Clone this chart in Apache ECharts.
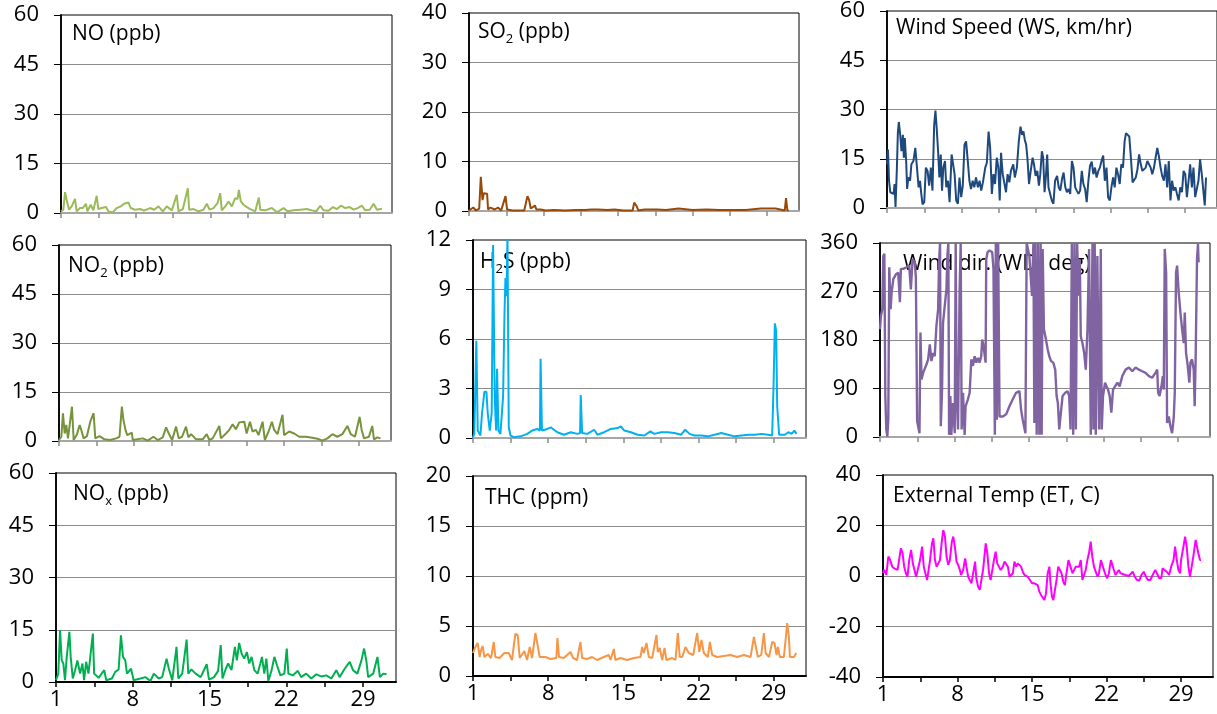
<!DOCTYPE html>
<html>
<head>
<meta charset="utf-8">
<script src="https://cdn.jsdelivr.net/npm/echarts@6/dist/echarts.min.js"></script>
<style>
html,body{margin:0;padding:0;background:#fff;}
#chart{width:1217px;height:714px;}
</style>
</head>
<body>
<div id="chart"></div>
<script>
// ---- tick labels (day of month) ----
const dayTicks = [1, 4.5, 8, 11.5, 15, 18.5, 22, 25.5, 29];
const dayLabels = [1, 8, 15, 22, 29];

// ---- series values: [day, value] ----
const noData = [[1.00,0.5],[1.22,1],[1.38,6.3],[1.53,4],[1.75,1],[2.0,2],[2.31,4.3],[2.47,0.5],[2.78,1.5],[3.03,1.5],[3.34,2.8],[3.47,0.5],[3.78,2.5],[4.03,0.8],[4.34,5.2],[4.5,1.2],[4.81,1.5],[5.22,1.8],[5.44,0.5],[5.84,0.2],[6.22,1.5],[6.59,2],[6.91,2.8],[7.31,3.2],[7.53,1.5],[7.94,1],[8.41,1.2],[8.78,0.7],[9.34,1.5],[9.72,1],[10.13,2],[10.53,0.5],[10.91,2],[11.38,0.8],[11.84,5.5],[12.0,0.5],[12.41,1.2],[12.88,7.5],[13.0,1],[13.41,1.2],[13.88,0.5],[14.34,1],[14.66,2.8],[14.91,1],[15.28,1.5],[15.66,3],[15.91,6],[16.06,0.8],[16.38,2],[16.69,3.5],[17.0,2],[17.31,4.5],[17.53,4.2],[17.66,7],[17.84,3.5],[18.09,2.5],[18.41,1.8],[18.72,1.2],[19.19,0.5],[19.53,4.7],[19.66,1],[20.13,0.8],[20.75,1.5],[21.22,0.2],[21.84,1.5],[22.22,0.5],[22.78,0.8],[23.41,1],[24.03,1.2],[24.5,0.8],[24.91,0.5],[25.28,2.2],[25.59,0.8],[26.06,0.7],[26.47,1.8],[26.84,1.2],[27.22,2.2],[27.63,1.5],[28.03,1.8],[28.41,1],[28.78,1.5],[29.19,2.2],[29.5,0.8],[29.91,1],[30.28,2.8],[30.59,1],[31.06,1.3]];

const no2Data = [[1.0,0.3],[1.22,1.3],[1.37,8.5],[1.53,2.3],[1.68,4.9],[1.84,0.8],[2.21,10.5],[2.37,0.3],[2.68,2.1],[2.93,4.9],[3.08,3.4],[3.30,0.8],[3.61,1.5],[3.92,5.9],[4.23,8.5],[4.39,0.8],[4.79,1.5],[5.25,0.5],[5.78,0.3],[6.34,0.8],[6.65,1.3],[6.87,10.5],[7.02,6.4],[7.21,3.4],[7.37,1.8],[7.80,2.6],[7.89,0.3],[8.83,0.8],[9.29,0.1],[9.82,1.3],[10.22,0.3],[10.69,1.1],[11.0,4.2],[11.25,2.3],[11.56,0.3],[11.93,4.4],[12.18,0.8],[12.49,1.3],[12.86,4.4],[13.08,1.1],[13.33,2.1],[13.80,0.5],[14.42,0.5],[14.79,2.1],[15.04,0.3],[15.35,0.8],[15.97,4.6],[16.12,0.8],[16.59,2.3],[16.90,3.4],[17.21,5.1],[17.52,3.6],[17.83,5.7],[18.30,5.9],[18.52,2.3],[18.83,5.9],[19.07,2.9],[19.39,3.4],[19.63,1.8],[20.01,5.9],[20.22,0.3],[20.57,2.9],[20.88,5.9],[21.09,3.4],[21.40,2.1],[21.87,8.0],[22.02,1.8],[22.49,2.9],[22.96,2.3],[23.42,1.3],[24.04,1.3],[24.66,1.0],[25.13,0.7],[25.60,0.1],[26.06,0.8],[26.53,2.1],[26.99,1.3],[27.46,2.1],[27.93,4.6],[28.24,2.1],[28.64,1.3],[29.07,7.4],[29.26,3.4],[29.48,0.8],[29.94,1.3],[30.25,4.6],[30.41,0.5],[30.72,1.1],[31.03,0.8]];

const noxData = [[1.0,0.5],[1.21,2.4],[1.37,14.9],[1.52,6.2],[1.67,5.3],[1.82,0.5],[1.98,7.2],[2.22,14.4],[2.34,7.2],[2.53,1.0],[2.74,3.4],[2.95,6.2],[3.20,2.4],[3.41,5.3],[3.56,0.5],[3.75,5.8],[3.96,2.4],[4.11,6.7],[4.36,13.9],[4.48,2.4],[4.88,1.2],[5.40,3.4],[5.58,0.5],[6.10,1.0],[6.40,2.9],[6.71,3.6],[6.92,13.4],[7.11,7.2],[7.32,6.2],[7.47,2.4],[7.84,3.8],[8.08,0.5],[8.69,1.0],[9.15,1.4],[9.61,0.3],[9.92,2.4],[10.37,1.0],[10.68,1.4],[11.08,6.7],[11.29,3.8],[11.60,0.5],[11.99,10.1],[12.15,1.0],[12.51,2.4],[12.91,12.2],[13.06,2.4],[13.34,3.6],[13.73,2.4],[14.19,1.4],[14.74,5.1],[14.95,0.7],[15.41,1.4],[15.78,3.2],[16.02,10.6],[16.18,1.0],[16.48,3.8],[16.70,5.3],[17.0,3.4],[17.31,10.1],[17.49,6.2],[17.70,11.2],[17.92,8.2],[18.16,6.7],[18.40,8.6],[18.62,5.3],[18.83,7.2],[19.08,3.4],[19.38,2.4],[19.63,5.3],[19.78,7.2],[19.99,2.4],[20.18,6.7],[20.36,0.3],[20.66,3.4],[20.91,7.2],[21.15,4.8],[21.46,1.9],[21.82,2.4],[22.04,9.6],[22.19,2.4],[22.59,1.9],[23.05,3.2],[23.35,1.4],[23.81,2.4],[24.27,1.0],[24.73,2.2],[25.18,1.6],[25.64,1.9],[26.10,1.0],[26.56,3.4],[26.86,1.4],[27.32,3.8],[27.78,5.8],[28.08,3.4],[28.48,2.4],[28.85,6.2],[29.09,9.6],[29.31,5.8],[29.46,1.4],[29.92,2.4],[30.31,7.2],[30.53,1.4],[30.83,2.4],[31.14,2.2]];

const so2Data = [[1.0,0.1],[1.40,0.7],[1.65,0.1],[1.96,0.5],[2.11,6.9],[2.27,2.2],[2.39,3.6],[2.57,3.2],[2.70,3.5],[2.79,0.3],[3.01,0.7],[3.41,0.3],[3.72,0.7],[4.02,0.1],[4.43,3.0],[4.58,0.3],[5.10,0.1],[6.19,0.1],[6.49,3.0],[6.65,2.2],[6.80,0.5],[7.20,1.1],[7.33,0.3],[7.73,0.3],[8.19,0.1],[9.0,0.2],[10.04,0.1],[11.0,0.2],[11.90,0.2],[12.5,0.3],[13.13,0.3],[14.0,0.2],[14.67,0.3],[15.5,0.1],[16.37,0.1],[16.52,1.7],[16.77,0.9],[16.90,0.1],[17.5,0.3],[18.69,0.3],[19.5,0.2],[20.69,0.5],[20.85,0.1],[22.0,0.2],[23.31,0.3],[24.5,0.2],[25.78,0.2],[27.0,0.2],[28.41,0.5],[28.56,0.1],[29.80,0.5],[29.95,0.1],[30.66,0.1],[30.78,2.6],[30.91,0.1],[31.03,0.1]];

const h2sData = [[1.0,0.05],[1.12,0.25],[1.31,5.9],[1.44,0.45],[1.69,0.15],[1.84,1.5],[2.06,2.8],[2.25,2.8],[2.37,1.5],[2.56,0.45],[2.74,1.5],[2.87,11.7],[3.02,2.5],[3.15,0.45],[3.24,4.2],[3.37,0.45],[3.55,0.25],[3.80,2.5],[3.93,7.45],[4.02,9.7],[4.12,8.6],[4.21,12.3],[4.33,0.65],[4.49,0.15],[4.80,0.05],[5.42,0.1],[6.05,0.25],[6.51,0.45],[6.98,0.55],[7.23,0.45],[7.29,4.8],[7.42,0.45],[7.92,0.55],[8.23,0.65],[8.54,0.5],[8.85,0.35],[9.47,0.2],[10.10,0.35],[10.72,0.25],[10.97,0.3],[11.03,2.6],[11.16,0.3],[11.65,0.25],[12.28,0.5],[12.59,0.2],[13.21,0.35],[13.83,0.55],[14.46,0.6],[14.77,0.7],[15.08,0.45],[15.70,0.35],[16.33,0.2],[16.95,0.15],[17.51,0.4],[17.88,0.25],[18.51,0.35],[19.13,0.35],[19.75,0.3],[20.38,0.2],[20.53,0.15],[20.75,0.5],[21.16,0.25],[21.62,0.15],[22.25,0.15],[22.87,0.1],[23.49,0.2],[24.12,0.3],[24.74,0.2],[25.36,0.1],[25.98,0.15],[26.61,0.2],[27.23,0.2],[27.85,0.25],[28.48,0.2],[28.85,0.15],[28.98,3.2],[29.10,6.95],[29.22,6.5],[29.32,1.9],[29.41,1.8],[29.50,0.2],[30.03,0.2],[30.35,0.35],[30.66,0.25],[30.91,0.45],[31.12,0.25]];

const thcData = [[1.0,2.3],[1.22,2.9],[1.43,3.3],[1.62,1.9],[1.75,2.6],[1.90,3.0],[2.06,1.9],[2.37,2.2],[2.68,1.8],[2.93,3.4],[3.08,1.9],[3.48,1.8],[3.92,2.3],[4.32,2.3],[4.63,1.6],[4.94,4.2],[5.16,4.1],[5.35,1.8],[5.78,2.5],[6.03,1.6],[6.28,2.9],[6.50,1.8],[6.81,4.3],[6.96,3.4],[7.21,1.9],[7.74,1.9],[8.20,1.7],[8.76,1.8],[8.86,3.8],[9.01,1.9],[9.45,1.8],[10.07,2.4],[10.32,1.8],[10.69,1.6],[11.0,3.4],[11.16,1.8],[11.62,1.7],[12.09,1.9],[12.55,1.6],[13.17,1.9],[13.64,2.1],[13.80,1.6],[14.11,2.7],[14.26,1.6],[14.73,1.8],[15.35,1.6],[15.97,1.8],[16.59,1.9],[16.75,2.9],[16.90,2.3],[17.15,3.3],[17.37,1.9],[17.68,1.8],[18.08,4.1],[18.20,2.4],[18.39,2.8],[18.61,1.6],[18.83,2.8],[19.01,1.6],[19.54,1.8],[19.85,1.6],[20.07,4.3],[20.25,1.9],[20.47,1.9],[20.78,2.9],[21.09,2.3],[21.50,2.1],[21.87,4.3],[22.06,2.4],[22.27,3.6],[22.49,2.3],[22.86,1.9],[23.05,3.4],[23.27,2.1],[23.73,1.9],[24.35,2.0],[24.98,2.1],[25.60,1.9],[26.22,2.1],[26.84,1.9],[27.15,3.9],[27.30,3.1],[27.52,1.9],[27.83,2.1],[28.08,4.3],[28.24,2.3],[28.55,1.9],[28.86,3.4],[29.07,3.3],[29.26,2.1],[29.39,2.9],[29.57,1.9],[29.94,1.9],[30.10,3.6],[30.25,5.3],[30.41,3.9],[30.50,1.9],[30.88,1.9],[31.09,2.3]];

const wsData = [[1.00,13.3],[1.09,17.8],[1.19,8.3],[1.31,4.8],[1.46,5.3],[1.62,4.3],[1.71,7.3],[1.80,0.3],[1.93,12.3],[2.02,22.8],[2.11,26.2],[2.24,22.3],[2.36,17.3],[2.49,22.3],[2.58,15.3],[2.67,21.3],[2.80,14.3],[2.89,5.8],[3.01,9.3],[3.17,8.3],[3.29,13.3],[3.48,14.3],[3.66,18.3],[3.79,13.3],[3.97,6.3],[4.10,8.3],[4.22,4.3],[4.34,1.1],[4.50,1.8],[4.65,12.3],[4.81,11.3],[4.96,6.8],[5.12,12.3],[5.27,5.3],[5.43,25.2],[5.55,29.7],[5.67,24.2],[5.80,17.3],[5.92,9.3],[6.05,16.3],[6.17,5.3],[6.29,12.3],[6.45,14.3],[6.57,6.3],[6.73,8.3],[6.88,1.8],[7.07,16.3],[7.22,16.8],[7.35,10.3],[7.50,2.3],[7.66,1.3],[7.81,9.3],[7.97,3.3],[8.12,6.8],[8.28,19.3],[8.43,20.3],[8.59,14.3],[8.74,8.3],[8.89,5.8],[9.05,8.3],[9.20,6.3],[9.36,9.3],[9.54,6.3],[9.70,8.3],[9.85,5.3],[10.01,7.8],[10.23,12.3],[10.38,13.8],[10.54,23.3],[10.69,18.3],[10.85,4.3],[11.00,10.3],[11.15,7.3],[11.31,15.3],[11.46,12.3],[11.59,2.3],[11.71,16.8],[11.87,10.3],[12.02,9.8],[12.18,4.8],[12.33,10.3],[12.49,7.8],[12.64,11.3],[12.86,13.3],[13.01,9.3],[13.20,12.3],[13.38,20.3],[13.54,24.8],[13.69,22.3],[13.82,23.3],[13.94,20.8],[14.07,19.3],[14.19,15.3],[14.34,7.3],[14.50,11.3],[14.68,15.3],[14.81,13.3],[14.96,9.8],[15.12,11.3],[15.27,6.8],[15.40,10.3],[15.55,17.3],[15.67,15.3],[15.80,4.8],[15.92,9.3],[16.05,16.3],[16.17,6.3],[16.33,6.3],[16.48,2.3],[16.63,1.3],[16.79,8.3],[16.98,9.8],[17.13,6.3],[17.28,5.3],[17.44,8.8],[17.59,10.8],[17.75,6.3],[17.90,4.8],[18.06,5.8],[18.21,4.3],[18.37,14.3],[18.52,12.3],[18.68,6.3],[18.83,5.3],[18.99,4.3],[19.14,5.3],[19.30,11.3],[19.45,7.3],[19.61,5.8],[19.76,1.8],[19.92,8.3],[20.07,12.8],[20.23,14.1],[20.38,10.3],[20.54,12.3],[20.69,9.3],[20.85,11.3],[21.00,12.3],[21.15,14.3],[21.31,16.0],[21.46,8.3],[21.62,12.3],[21.77,3.3],[21.93,2.3],[22.08,6.3],[22.24,9.3],[22.39,6.3],[22.55,12.3],[22.70,10.3],[22.86,7.3],[23.01,13.3],[23.17,12.3],[23.32,20.3],[23.45,22.8],[23.60,22.3],[23.76,21.8],[23.91,15.3],[24.07,7.8],[24.22,7.3],[24.37,9.3],[24.53,11.8],[24.68,16.3],[24.84,13.3],[24.99,11.3],[25.15,10.8],[25.30,12.3],[25.46,14.3],[25.61,14.8],[25.77,12.3],[25.92,10.3],[26.08,12.3],[26.23,15.3],[26.39,18.3],[26.54,15.8],[26.70,12.3],[26.85,9.8],[27.01,8.3],[27.16,13.3],[27.32,6.3],[27.47,14.3],[27.63,2.3],[27.78,8.3],[27.93,5.3],[28.09,6.3],[28.24,4.3],[28.40,2.3],[28.55,6.3],[28.71,4.8],[28.86,11.3],[29.02,10.3],[29.17,3.3],[29.33,8.3],[29.48,13.3],[29.64,6.3],[29.79,12.3],[29.95,3.3],[30.10,3.3],[30.26,8.3],[30.41,14.8],[30.57,10.3],[30.72,10.3],[30.85,0.8],[30.97,9.3]];

const wdData = [[1.00,200],[1.09,225],[1.22,237],[1.31,336],[1.41,340],[1.50,76],[1.59,14],[1.69,1],[1.78,32],[1.87,315],[2.00,237],[2.09,268],[2.25,293],[2.50,302],[2.71,305],[2.87,250],[2.96,312],[3.18,312],[3.49,315],[3.74,318],[3.90,274],[4.06,330],[4.27,324],[4.37,296],[4.49,29],[4.62,26],[4.71,7],[4.80,194],[4.90,107],[5.05,119],[5.21,122],[5.37,135],[5.52,144],[5.68,172],[5.83,141],[5.99,156],[6.14,150],[6.30,206],[6.46,237],[6.55,324],[6.64,360],[6.71,20],[6.83,88],[6.92,212],[7.08,243],[7.24,274],[7.33,336],[7.42,360],[7.49,4],[7.61,76],[7.70,4],[7.86,63],[8.02,7],[8.11,360],[8.20,76],[8.33,14],[8.48,274],[8.58,360],[8.67,14],[8.80,82],[8.95,4],[9.04,57],[9.26,70],[9.42,82],[9.58,144],[9.73,132],[9.89,150],[10.04,138],[10.20,147],[10.35,138],[10.51,150],[10.60,181],[10.73,168],[10.92,138],[10.98,330],[11.10,343],[11.29,346],[11.54,343],[11.66,312],[11.79,4],[11.88,360],[11.98,32],[12.10,360],[12.23,38],[12.38,35],[12.54,38],[12.85,42],[13.16,57],[13.47,70],[13.78,82],[14.10,85],[14.25,51],[14.41,32],[14.66,7],[14.78,360],[15.03,336],[15.28,262],[15.41,360],[15.50,26],[15.59,360],[15.72,4],[15.84,360],[15.97,4],[16.09,360],[16.19,4],[16.28,349],[16.40,200],[16.59,181],[16.75,163],[16.90,150],[17.06,141],[17.28,138],[17.46,125],[17.59,76],[17.71,63],[17.84,14],[17.99,45],[18.15,76],[18.40,82],[18.62,85],[18.77,76],[18.90,14],[19.02,360],[19.15,4],[19.27,360],[19.40,14],[19.52,360],[19.65,262],[19.77,330],[19.86,187],[20.02,174],[20.18,156],[20.33,125],[20.49,200],[20.64,349],[20.80,4],[20.96,360],[21.05,14],[21.17,360],[21.27,4],[21.42,336],[21.58,14],[21.74,349],[21.83,14],[21.95,76],[22.14,101],[22.27,94],[22.42,88],[22.58,76],[22.73,45],[22.89,88],[23.08,94],[23.30,101],[23.51,94],[23.76,113],[24.07,125],[24.39,129],[24.70,122],[25.01,129],[25.32,125],[25.63,122],[25.95,119],[26.26,113],[26.57,110],[26.88,119],[27.04,125],[27.13,82],[27.26,76],[27.44,94],[27.57,113],[27.66,88],[27.75,349],[27.88,305],[27.97,26],[28.13,38],[28.28,20],[28.44,7],[28.60,38],[28.69,82],[28.81,305],[28.91,318],[29.06,268],[29.22,231],[29.38,200],[29.53,174],[29.63,231],[29.75,156],[29.91,132],[30.06,101],[30.16,138],[30.31,144],[30.47,125],[30.56,57],[30.65,144],[30.78,330],[30.87,358],[30.93,324]];

const etData = [[1.00,1.1],[1.12,2.4],[1.31,0.4],[1.50,7.7],[1.68,6.3],[1.87,3.7],[2.06,3.0],[2.24,3.0],[2.37,2.4],[2.56,7.7],[2.68,11.0],[2.84,9.0],[2.99,3.7],[3.15,1.1],[3.30,-0.3],[3.46,6.3],[3.64,10.3],[3.80,5.0],[3.96,2.4],[4.11,-0.3],[4.27,0.4],[4.48,6.3],[4.67,11.6],[4.83,3.7],[4.98,1.1],[5.14,-1.6],[5.26,-2.2],[5.42,6.3],[5.60,12.9],[5.73,14.9],[5.88,6.3],[6.04,3.7],[6.20,3.0],[6.35,6.3],[6.54,14.3],[6.66,18.2],[6.82,15.6],[6.97,7.7],[7.13,4.4],[7.28,6.3],[7.47,13.6],[7.60,15.6],[7.75,11.6],[7.91,5.7],[8.06,4.4],[8.22,2.4],[8.34,0.4],[8.53,2.4],[8.72,7.0],[8.84,3.7],[9.00,-0.3],[9.15,-1.6],[9.31,-2.9],[9.46,-2.2],[9.65,5.7],[9.77,-0.9],[9.93,-4.2],[10.09,-5.5],[10.24,-1.6],[10.40,2.4],[10.65,12.9],[10.80,9.0],[10.96,1.1],[11.11,-1.6],[11.27,2.4],[11.42,6.3],[11.58,9.6],[11.73,5.0],[11.89,3.7],[12.05,2.4],[12.26,3.7],[12.42,5.7],[12.57,6.3],[12.73,3.7],[12.89,-0.3],[13.04,-0.9],[13.20,1.1],[13.35,5.7],[13.51,3.7],[13.66,5.0],[13.82,4.4],[13.97,3.7],[14.13,1.7],[14.29,0.4],[14.44,1.1],[14.60,-0.3],[14.81,-1.6],[15.00,-2.9],[15.22,-2.9],[15.38,-2.2],[15.53,-3.6],[15.69,-6.2],[15.84,-7.5],[16.00,-8.2],[16.16,-9.5],[16.31,-6.9],[16.47,1.1],[16.63,3.7],[16.72,-2.2],[16.87,-8.2],[17.00,-9.5],[17.15,-8.9],[17.30,-1.6],[17.46,3.7],[17.62,2.4],[17.77,1.1],[17.93,-2.2],[18.08,-3.6],[18.24,1.1],[18.42,6.3],[18.61,3.7],[18.80,1.1],[18.95,1.7],[19.11,3.7],[19.26,3.0],[19.42,3.7],[19.58,6.3],[19.73,-1.6],[19.89,-0.9],[20.04,2.4],[20.20,6.3],[20.35,9.0],[20.51,13.6],[20.66,7.7],[20.82,3.7],[20.98,1.7],[21.16,-0.3],[21.29,1.1],[21.47,6.3],[21.60,7.0],[21.75,2.4],[21.91,0.4],[22.06,-0.9],[22.22,1.1],[22.41,6.3],[22.53,7.0],[22.69,2.4],[22.84,0.4],[23.00,-0.3],[23.15,2.4],[23.31,1.1],[23.46,0.8],[23.78,0.4],[24.09,0],[24.24,-0.5],[24.46,1.7],[24.65,-0.3],[24.86,-1.6],[25.08,-1.8],[25.27,0.4],[25.49,1.7],[25.70,-0.3],[25.89,-1.6],[26.11,-1.6],[26.33,0.4],[26.58,2.4],[26.73,1.7],[26.95,-0.9],[27.14,-0.9],[27.26,3.0],[27.45,2.4],[27.66,1.7],[27.88,0.4],[28.07,3.7],[28.29,6.3],[28.44,11.6],[28.60,6.3],[28.75,2.4],[28.91,1.1],[29.00,6.3],[29.22,11.6],[29.38,15.6],[29.53,11.6],[29.69,3.7],[29.84,-0.3],[30.00,-0.3],[30.15,7.7],[30.37,14.3],[30.50,14.9],[30.62,9.0],[30.78,6.3],[30.87,6.3]];

// ---- panel titles (rich text: {s|..} is a subscript) ----
const titles = [
  '{m|NO (ppb)}', '{m|SO}{s|2}{m| (ppb)}', '{m|Wind Speed (WS, km/hr)}',
  '{m|NO}{s|2}{m| (ppb)}', '{m|H}{s|2}{m|S (ppb)}', '{m|Wind dir. (WD, deg)}',
  '{m|NO}{s|x}{m| (ppb)}', '{m|THC (ppm)}', '{m|External Temp (ET, C)}'
];
const yRanges = [[0,60,15],[0,40,10],[0,60,15],[0,60,15],[0,12,3],[0,360,90],[0,60,15],[0,20,5],[-40,40,20]];
const seriesData = [noData, so2Data, wsData, no2Data, h2sData, wdData, noxData, thcData, etData];

// ---- layout & style ----
const colors = ['#9BBB59','#984807','#1F497D','#77933C','#00B0F0','#8064A2','#00B050','#F79646','#FF00FF'];
const grids = [ // left, top, width, height
  [61,15,331,198],[469,13,330,198],[887,7,334,201],
  [59,245,332,196],[473,240,333,198],[880,243,330,194],
  [56,473,340,209],[473,476,333,200],[883,475,330,202]
];
const titlePos = [[72,20],[478,18],[896,14],[68,252],[480,248],[903,250],[73,480],[485,484],[893,482]];
const FONT = 'Open Sans';

const option = {
  animation: false,
  backgroundColor: '#ffffff',
  title: titles.map((t, i) => ({
    text: t, left: titlePos[i][0], top: titlePos[i][1], padding: 0, z: 1,
    textStyle: { fontWeight: 'normal', rich: {
      m: { fontFamily: FONT, fontSize: 21, fontWeight: 'normal', color: '#000', lineHeight: 28 },
      s: { fontFamily: FONT, fontSize: 13, fontWeight: 'normal', color: '#000', lineHeight: 10, verticalAlign: 'bottom' }
    } }
  })),
  grid: grids.map(g => ({ left: g[0], top: g[1], width: g[2], height: g[3], show: true,
    borderColor: '#000', borderWidth: 1, backgroundColor: 'transparent', containLabel: false })),
  xAxis: grids.map((g, i) => {
    const bottomRow = i >= 6;
    const axCol = bottomRow ? '#000' : '#a6a6a6';
    return {
      gridIndex: i, type: 'value', min: 1, max: 32,
      axisLine: { show: true, onZero: false, lineStyle: { color: axCol, width: 2 } },
      axisTick: { show: true, customValues: dayTicks, length: 5, lineStyle: { color: bottomRow ? '#000' : '#8c8c8c', width: 1.5 } },
      axisLabel: { show: bottomRow, customValues: dayLabels, fontFamily: FONT, fontSize: 22, color: '#000', margin: 7 },
      splitLine: { show: false }
    };
  }),
  yAxis: grids.map((g, i) => ({
    gridIndex: i, type: 'value', min: yRanges[i][0], max: yRanges[i][1], interval: yRanges[i][2],
    axisLine: { show: true, lineStyle: { color: '#000', width: 1.8 } },
    axisTick: { show: true, length: 7, lineStyle: { color: '#000', width: 1 } },
    axisLabel: { fontFamily: FONT, fontSize: 22, color: '#000', margin: 22 },
    splitLine: { show: true, showMinLine: false, showMaxLine: false, lineStyle: { color: '#8c8c8c', width: 1.2 } }
  })),
  series: seriesData.map((d, i) => ({
    type: 'line', xAxisIndex: i, yAxisIndex: i, data: d, showSymbol: false, clip: true,
    lineStyle: { color: colors[i], width: i === 5 ? 2.4 : 2 }, itemStyle: { color: colors[i] }, z: 3
  }))
};

const chart = echarts.init(document.getElementById('chart'), null, { renderer: 'canvas' });
chart.setOption(option);
</script>
</body>
</html>
